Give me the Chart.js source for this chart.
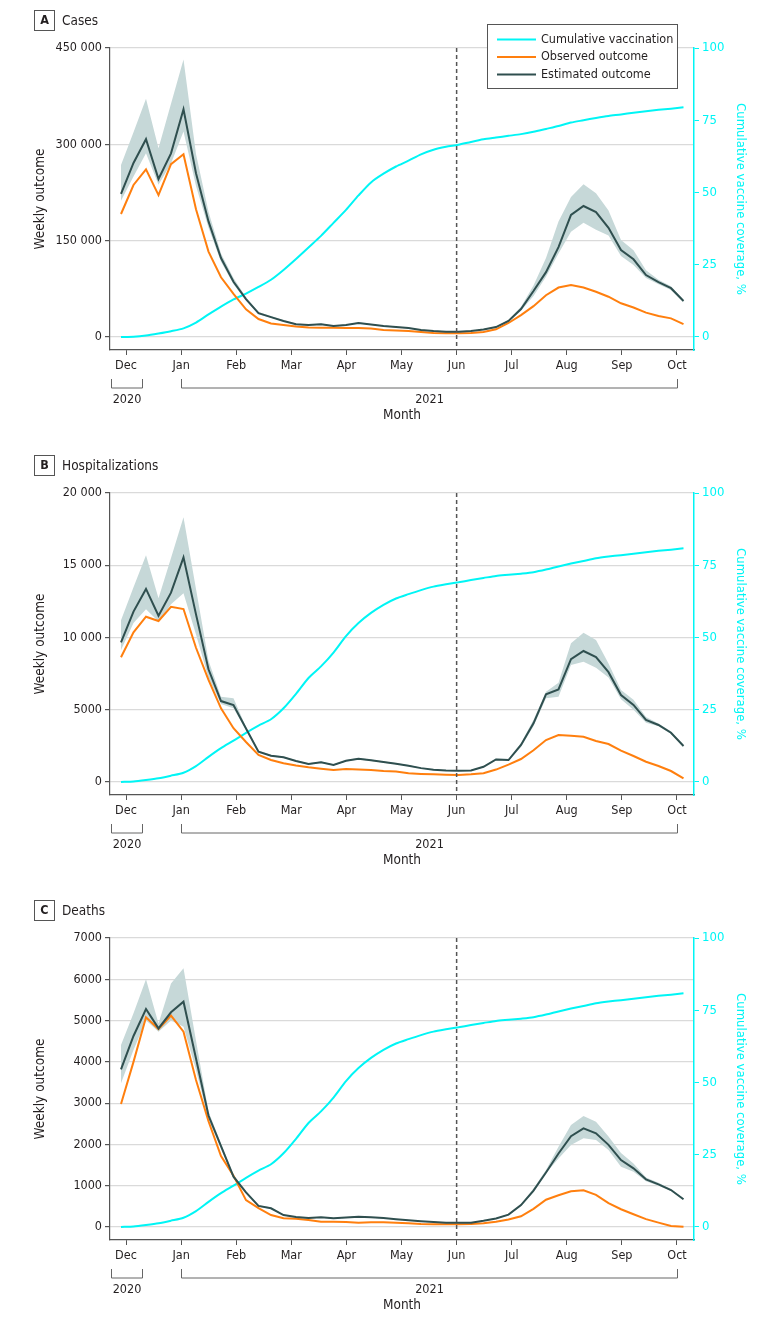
<!DOCTYPE html>
<html>
<head>
<meta charset="utf-8">
<script src="https://cdn.jsdelivr.net/npm/chart.js@4.4.1/dist/chart.umd.min.js"></script>
<style>
  html, body { margin: 0; padding: 0; background: #fff; }
  .panel { position: absolute; left: 0; width: 780px; height: 438px; }
</style>
</head>
<body>
<div class="panel" style="top:0"><canvas id="chartA" width="780" height="438"></canvas></div>
<div class="panel" style="top:445px"><canvas id="chartB" width="780" height="438"></canvas></div>
<div class="panel" style="top:890px"><canvas id="chartC" width="780" height="438"></canvas></div>
<script>
// weekly points, first week ~ end of Nov 2020
var monthLabels = ['Dec', 'Jan', 'Feb', 'Mar', 'Apr', 'May', 'Jun', 'Jul', 'Aug', 'Sep', 'Oct']
var monthTickWeeks = [0.4, 4.81, 9.22, 13.62, 18.03, 22.44, 26.85, 31.26, 35.66, 40.07, 44.48]
var yearLabels = ['2020', '2021']
var yearSpans = [[-0.8, 1.64], [4.81, 44.48]]

// A - cases
var casesObserved = [191500, 236700, 261000, 221000, 269000, 284500, 199000, 133000, 93000, 67000, 43000, 28000, 21000, 18700, 16300, 14800, 14500, 14500, 14000, 14000, 13200, 11000, 10000, 9300, 7800, 6200, 5700, 5700, 6200, 7800, 12000, 21800, 34000, 48000, 65000, 77000, 81000, 77000, 70500, 62700, 52500, 46000, 38000, 32700, 29000, 20000]
var casesEstimated = [223000, 271000, 308000, 246000, 286000, 354500, 255000, 180000, 123000, 86000, 59000, 37000, 31000, 25000, 20000, 18700, 20000, 17000, 18700, 21800, 19500, 17000, 15500, 14000, 11000, 9300, 8300, 8300, 9300, 11700, 15500, 25000, 43600, 71600, 101000, 140000, 190000, 204000, 194500, 170000, 135500, 121000, 96500, 85600, 76000, 56000]
var casesUpper = [268000, 319000, 371000, 294000, 363000, 432000, 285000, 195000, 130000, 92000, 62000, 39000, 32500, 26000, 21000, 19500, 21000, 18000, 19500, 22800, 20300, 17800, 16200, 14600, 11500, 9800, 8700, 8700, 9800, 12300, 16300, 26500, 47000, 80000, 123000, 180000, 218000, 238000, 224000, 197000, 151000, 135000, 104000, 89000, 79000, 58000]
var casesLower = [212000, 250000, 286000, 237000, 270000, 320000, 235000, 170000, 117000, 82000, 57000, 35500, 29800, 24000, 19200, 18000, 19200, 16300, 18000, 20900, 18700, 16300, 14900, 13400, 10500, 8900, 7900, 7900, 8900, 11200, 14800, 23800, 41000, 64000, 94000, 130000, 164000, 178000, 167000, 158000, 126000, 112000, 92000, 82000, 73000, 54000]
var casesVaccination = [0, 0.1, 0.5, 1.2, 2.0, 3.0, 5.0, 7.8, 10.5, 13.0, 15.0, 17.3, 19.8, 23.2, 27.0, 31.0, 35.0, 39.5, 44.0, 49.0, 53.5, 56.5, 59.0, 61.0, 63.2, 64.8, 65.8, 66.5, 67.5, 68.4, 69.0, 69.6, 70.2, 71.0, 72.0, 73.0, 74.2, 75.0, 75.8, 76.5, 77.0, 77.6, 78.1, 78.6, 79.0, 79.5]
var casesTicks = [0, 150000, 300000, 450000]
var casesTickLabels = ['0', '150 000', '300 000', '450 000']

// B - hospitalizations
var hospObserved = [8630, 10360, 11440, 11140, 12130, 11970, 9290, 7060, 5100, 3720, 2770, 1870, 1520, 1300, 1140, 1020, 920, 830, 900, 870, 830, 760, 720, 600, 560, 530, 500, 485, 530, 600, 860, 1200, 1590, 2200, 2900, 3250, 3200, 3130, 2840, 2630, 2170, 1800, 1400, 1110, 760, 255]
var hospEstimated = [9670, 11790, 13360, 11510, 13100, 15550, 11600, 7800, 5600, 5330, 3700, 2100, 1820, 1710, 1450, 1245, 1360, 1180, 1470, 1610, 1500, 1380, 1270, 1130, 960, 850, 790, 780, 790, 1050, 1560, 1520, 2560, 4060, 6070, 6410, 8500, 9065, 8650, 7600, 6020, 5330, 4290, 3945, 3410, 2490]
var hospUpper = [11200, 13470, 15700, 12710, 15510, 18320, 13360, 8400, 5900, 5800, 3800, 2180, 1880, 1760, 1500, 1290, 1410, 1220, 1520, 1660, 1550, 1420, 1310, 1170, 990, 880, 820, 810, 820, 1090, 1620, 1600, 2700, 4300, 6250, 6870, 9600, 10330, 9830, 8200, 6370, 5700, 4500, 4050, 3500, 2550]
var hospLower = [9130, 11000, 11950, 11100, 12300, 13060, 10200, 7200, 5400, 5100, 3600, 2030, 1760, 1660, 1400, 1200, 1310, 1140, 1420, 1560, 1450, 1340, 1230, 1090, 930, 820, 760, 750, 760, 1010, 1500, 1450, 2420, 3850, 5790, 5900, 8100, 8330, 7900, 7240, 5720, 5000, 4100, 3850, 3330, 2430]
var hospTicks = [0, 5000, 10000, 15000, 20000]
var hospTickLabels = ['0', '5000', '10 000', '15 000', '20 000']

// C - deaths
var deathsObserved = [2980, 4000, 5080, 4795, 5120, 4730, 3560, 2560, 1720, 1240, 650, 455, 290, 210, 200, 170, 130, 130, 120, 105, 115, 115, 105, 90, 75, 68, 65, 68, 73, 88, 125, 180, 260, 440, 660, 770, 865, 890, 780, 580, 430, 310, 190, 105, 25, 8]
var deathsEstimated = [3820, 4626, 5280, 4810, 5200, 5457, 4080, 2700, 1960, 1220, 840, 510, 453, 290, 240, 215, 235, 210, 230, 250, 235, 215, 190, 165, 140, 120, 105, 104, 104, 150, 205, 300, 530, 880, 1320, 1780, 2200, 2390, 2270, 1990, 1620, 1420, 1155, 1034, 896, 671]
var deathsUpper = [4410, 5175, 6000, 4930, 5900, 6265, 4510, 2800, 2020, 1260, 870, 530, 470, 300, 250, 225, 245, 220, 240, 260, 245, 225, 198, 172, 146, 126, 110, 109, 109, 157, 214, 313, 555, 930, 1380, 1945, 2470, 2690, 2550, 2190, 1790, 1540, 1200, 1070, 920, 690]
var deathsLower = [3480, 4290, 5010, 4730, 5000, 4850, 3800, 2600, 1900, 1180, 810, 490, 436, 280, 230, 206, 225, 200, 220, 240, 225, 206, 182, 158, 134, 114, 100, 99, 99, 143, 196, 287, 505, 840, 1300, 1660, 1986, 2150, 2110, 1865, 1460, 1340, 1110, 1000, 870, 650]
var deathsTicks = [0, 1000, 2000, 3000, 4000, 5000, 6000, 7000]
var deathsTickLabels = ['0', '1000', '2000', '3000', '4000', '5000', '6000', '7000']

// vaccination curve shown in B and C
var hospVaccination = [0, 0.2, 0.7, 1.3, 2.2, 3.2, 5.5, 8.7, 11.7, 14.3, 17.0, 19.5, 21.7, 25.5, 30.5, 36.0, 40.0, 44.8, 50.5, 55.0, 58.5, 61.3, 63.5, 65.0, 66.4, 67.6, 68.4, 69.1, 69.9, 70.6, 71.3, 71.7, 72.1, 72.6, 73.5, 74.6, 75.6, 76.5, 77.4, 78.0, 78.5, 79.0, 79.5, 80.0, 80.4, 80.9]
var coverageTicks = [0, 25, 50, 75, 100]

var colors = {
    vaccination: '#00f5f5',
    observed: '#ff7f0e',
    estimated: '#2f4f4f',
    band: '#c6d8d8',
    grid: '#dadada',
    axis: '#555555',
    text: '#231f20'
}

var fontFamily = "'Liberation Sans Narrow', 'Arial Narrow', 'DejaVu Sans Condensed', sans-serif"

Chart.defaults.font.family = fontFamily
Chart.defaults.font.size = 12.5
Chart.defaults.color = colors.text

var weekIndex = casesObserved.map(function (v, i) { return i })

var legendItems = [
    { text: 'Cumulative vaccination', color: colors.vaccination },
    { text: 'Observed outcome', color: colors.observed },
    { text: 'Estimated outcome', color: colors.estimated }
]

var panelDecor = {
    id: 'panelDecor',
    afterDatasetsDraw: function (chart) {
        var ctx = chart.ctx, area = chart.chartArea
        var px = chart.scales.x.getPixelForValue(monthTickWeeks[6])
        ctx.save()
        ctx.strokeStyle = colors.axis
        ctx.lineWidth = 1.5
        ctx.setLineDash([4, 3])
        ctx.beginPath()
        ctx.moveTo(px, area.top)
        ctx.lineTo(px, area.bottom)
        ctx.stroke()
        ctx.restore()
    },
    afterDraw: function (chart, args, opts) {
        var ctx = chart.ctx, area = chart.chartArea, x = chart.scales.x
        ctx.save()
        // panel letter + title
        ctx.strokeStyle = colors.axis
        ctx.lineWidth = 1
        ctx.strokeRect(34.5, 10.5, 20, 20)
        ctx.fillStyle = colors.text
        ctx.textBaseline = 'middle'
        ctx.textAlign = 'center'
        ctx.font = 'bold 12.5px ' + fontFamily
        ctx.fillText(opts.letter, 44.5, 21)
        ctx.textAlign = 'left'
        ctx.font = '13.5px ' + fontFamily
        ctx.fillText(opts.title, 62, 21)

        // year brackets under the month ticks
        var by = area.bottom + 38
        ctx.strokeStyle = '#666'
        ctx.font = '12.5px ' + fontFamily
        ctx.textAlign = 'center'
        yearSpans.forEach(function (span, i) {
            var x0 = Math.round(x.getPixelForValue(span[0])) + 0.5
            var x1 = Math.round(x.getPixelForValue(span[1])) + 0.5
            ctx.beginPath()
            ctx.moveTo(x0, by - 9)
            ctx.lineTo(x0, by)
            ctx.lineTo(x1, by)
            ctx.lineTo(x1, by - 9)
            ctx.stroke()
            ctx.fillText(yearLabels[i], (x0 + x1) / 2, by + 12)
        })

        // legend (panel A only)
        if (opts.legend) {
            ctx.strokeStyle = colors.axis
            ctx.fillStyle = '#fff'
            ctx.fillRect(487, 24, 190, 64)
            ctx.strokeRect(487.5, 24.5, 190, 64)
            ctx.textAlign = 'left'
            legendItems.forEach(function (item, i) {
                var ly = 39.5 + i * 17.5
                ctx.strokeStyle = item.color
                ctx.lineWidth = 2
                ctx.beginPath()
                ctx.moveTo(497, ly)
                ctx.lineTo(536, ly)
                ctx.stroke()
                ctx.fillStyle = colors.text
                ctx.fillText(item.text, 541, ly)
            })
        }
        ctx.restore()
    }
}

function lineSet(label, data, color, axis, order) {
    return {
        label: label,
        data: data,
        borderColor: color,
        borderWidth: 2,
        pointRadius: 0,
        tension: axis === 'y2' ? 0.25 : 0,
        fill: false,
        yAxisID: axis,
        order: order
    }
}

function createPanel(canvasId, letter, title, observed, estimated, upper, lower, vaccination, ticks, tickLabels, showLegend) {
    var yMax = ticks[ticks.length - 1]
    new Chart(document.getElementById(canvasId), {
        type: 'line',
        data: {
            labels: weekIndex,
            datasets: [
                lineSet('Estimated outcome', estimated, colors.estimated, 'y', 1),
                lineSet('Observed outcome', observed, colors.observed, 'y', 2),
                lineSet('Cumulative vaccination', vaccination, colors.vaccination, 'y2', 3),
                {
                    label: 'upper',
                    data: upper,
                    borderWidth: 0,
                    pointRadius: 0,
                    backgroundColor: colors.band,
                    fill: '+1',
                    yAxisID: 'y',
                    order: 4
                },
                {
                    label: 'lower',
                    data: lower,
                    borderWidth: 0,
                    pointRadius: 0,
                    fill: false,
                    yAxisID: 'y',
                    order: 5
                }
            ]
        },
        options: {
            responsive: false,
            animation: false,
            events: [],
            layout: { padding: { top: 48, left: 0, right: 0, bottom: 0 } },
            plugins: {
                legend: { display: false },
                tooltip: { enabled: false },
                panelDecor: { letter: letter, title: title, legend: showLegend }
            },
            scales: {
                x: {
                    type: 'linear',
                    min: -0.88,
                    max: 45.84,
                    afterBuildTicks: function (s) {
                        s.ticks = monthTickWeeks.map(function (v) { return { value: v } })
                    },
                    afterFit: function (s) { s.height = 88 },
                    grid: { display: true, drawOnChartArea: false, tickLength: 5, tickColor: colors.axis },
                    border: { color: colors.axis, width: 1.2 },
                    ticks: {
                        autoSkip: false,
                        maxRotation: 0,
                        padding: 3,
                        color: colors.text,
                        callback: function (v, i) { return monthLabels[i] }
                    },
                    title: {
                        display: true,
                        text: 'Month',
                        color: colors.text,
                        font: { size: 13.5 },
                        padding: { top: 0, bottom: 14 }
                    }
                },
                y: {
                    position: 'left',
                    min: -yMax * 0.045,
                    max: yMax,
                    afterBuildTicks: function (s) {
                        s.ticks = ticks.map(function (v) { return { value: v } })
                    },
                    afterFit: function (s) { s.width = 110 },
                    grid: { color: colors.grid, lineWidth: 1.2, tickColor: colors.axis, tickLength: 5 },
                    border: { color: colors.axis, width: 1.2 },
                    ticks: {
                        padding: 3,
                        color: colors.text,
                        callback: function (v, i) { return tickLabels[i] }
                    },
                    title: {
                        display: true,
                        text: 'Weekly outcome',
                        color: colors.text,
                        font: { size: 13.5 },
                        padding: { top: 32, bottom: 0 }
                    }
                },
                y2: {
                    position: 'right',
                    min: -4.5,
                    max: 100,
                    afterBuildTicks: function (s) {
                        s.ticks = coverageTicks.map(function (v) { return { value: v } })
                    },
                    afterFit: function (s) { s.width = 86 },
                    grid: { drawOnChartArea: false, tickColor: colors.vaccination, tickLength: 5 },
                    border: { color: colors.vaccination, width: 1.5 },
                    ticks: { padding: 3, color: colors.vaccination, font: { size: 13 } },
                    title: {
                        display: true,
                        text: 'Cumulative vaccine coverage, %',
                        color: colors.vaccination,
                        font: { size: 13 },
                        padding: { top: 32, bottom: 0 }
                    }
                }
            }
        },
        plugins: [panelDecor]
    })
}

createPanel('chartA', 'A', 'Cases', casesObserved, casesEstimated, casesUpper, casesLower, casesVaccination, casesTicks, casesTickLabels, true)
createPanel('chartB', 'B', 'Hospitalizations', hospObserved, hospEstimated, hospUpper, hospLower, hospVaccination, hospTicks, hospTickLabels, false)
createPanel('chartC', 'C', 'Deaths', deathsObserved, deathsEstimated, deathsUpper, deathsLower, hospVaccination, deathsTicks, deathsTickLabels, false)
</script>
</body>
</html>
